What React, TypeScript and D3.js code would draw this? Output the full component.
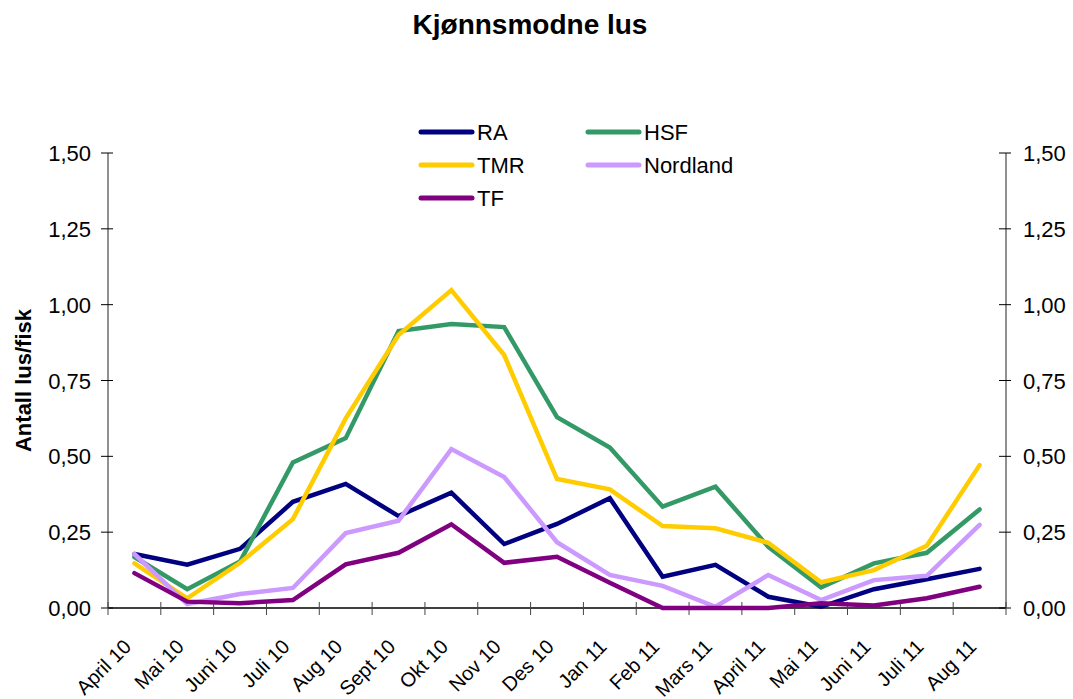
import React, { useEffect, useRef } from 'react';
import * as d3 from 'd3';

const months = ['April 10', 'Mai 10', 'Juni 10', 'Juli 10', 'Aug 10', 'Sept 10', 'Okt 10', 'Nov 10', 'Des 10',
  'Jan 11', 'Feb 11', 'Mars 11', 'April 11', 'Mai 11', 'Juni 11', 'Juli 11', 'Aug 11'];

const ra = [0.178, 0.143, 0.195, 0.35, 0.409, 0.303, 0.38, 0.211, 0.277, 0.362, 0.103, 0.142, 0.037, 0.004, 0.062, 0.095, 0.129];
const hsf = [0.168, 0.062, 0.153, 0.48, 0.56, 0.913, 0.936, 0.926, 0.629, 0.529, 0.334, 0.40, 0.202, 0.068, 0.147, 0.182, 0.325];
const tmr = [0.147, 0.032, 0.149, 0.293, 0.625, 0.90, 1.048, 0.834, 0.425, 0.391, 0.27, 0.263, 0.215, 0.085, 0.125, 0.205, 0.471];
const nordland = [0.178, 0.013, 0.046, 0.066, 0.247, 0.288, 0.524, 0.432, 0.217, 0.109, 0.073, 0.004, 0.109, 0.026, 0.092, 0.106, 0.274];
const tf = [0.115, 0.021, 0.016, 0.026, 0.144, 0.182, 0.276, 0.149, 0.169, 0.083, 0, 0, 0, 0.016, 0.008, 0.032, 0.07];

const yTicks = [0, 0.25, 0.5, 0.75, 1, 1.25, 1.5];

const series = [
  { name: 'RA', values: ra, color: '#000080' },
  { name: 'HSF', values: hsf, color: '#339966' },
  { name: 'TMR', values: tmr, color: '#FFCC00' },
  { name: 'Nordland', values: nordland, color: '#CC99FF' },
  { name: 'TF', values: tf, color: '#800080' },
];

export default function App() {
  const ref = useRef<SVGSVGElement>(null);

  useEffect(() => {
    const svg = d3.select(ref.current);
    svg.selectAll('*').remove();

    const left = 108, right = 1006, top = 153, bottom = 608;
    const font = 'Liberation Sans, Arial, sans-serif';

    const x = d3.scaleBand().domain(months).range([left, right]);
    const y = d3.scaleLinear().domain([0, 1.5]).range([bottom, top]);
    const fmt = (v: number) => d3.format('.2f')(v).replace('.', ',');

    // title
    svg.append('text')
      .attr('x', 530).attr('y', 34)
      .attr('text-anchor', 'middle')
      .attr('font-family', font).attr('font-size', 28).attr('font-weight', 'bold')
      .text('Kjønnsmodne lus');

    // y title
    svg.append('text')
      .attr('transform', `translate(31,${(top + bottom) / 2}) rotate(-90)`)
      .attr('text-anchor', 'middle')
      .attr('font-family', font).attr('font-size', 22).attr('font-weight', 'bold')
      .text('Antall lus/fisk');

    // axes
    const axisColor = '#555';
    svg.append('line').attr('x1', left).attr('x2', left).attr('y1', top).attr('y2', bottom)
      .attr('stroke', axisColor).attr('stroke-width', 1.3);
    svg.append('line').attr('x1', right).attr('x2', right).attr('y1', top).attr('y2', bottom)
      .attr('stroke', axisColor).attr('stroke-width', 1.3);

    yTicks.forEach(t => {
      svg.append('line').attr('x1', left - 7).attr('x2', left + 5).attr('y1', y(t)).attr('y2', y(t))
        .attr('stroke', '#000').attr('stroke-width', 1);
      svg.append('line').attr('x1', right - 7).attr('x2', right + 5).attr('y1', y(t)).attr('y2', y(t))
        .attr('stroke', '#000').attr('stroke-width', 1);
      svg.append('text').attr('x', left - 17).attr('y', y(t) + 8)
        .attr('text-anchor', 'end').attr('font-family', font).attr('font-size', 22)
        .text(fmt(t));
      svg.append('text').attr('x', right + 17).attr('y', y(t) + 8)
        .attr('text-anchor', 'start').attr('font-family', font).attr('font-size', 22)
        .text(fmt(t));
    });

    // x axis
    svg.append('line').attr('x1', left).attr('x2', right).attr('y1', bottom).attr('y2', bottom)
      .attr('stroke', '#000').attr('stroke-width', 1.3);
    const edges = months.map(m => x(m) as number).concat([right]);
    edges.forEach(e => {
      svg.append('line').attr('x1', e).attr('x2', e).attr('y1', bottom - 6).attr('y2', bottom + 7)
        .attr('stroke', '#444').attr('stroke-width', 1);
    });
    months.forEach(m => {
      const cx = (x(m) as number) + x.bandwidth() / 2;
      svg.append('text')
        .attr('transform', `translate(${cx - 2},${bottom + 40}) rotate(-45)`)
        .attr('text-anchor', 'end')
        .attr('font-family', font).attr('font-size', 20)
        .text(m);
    });

    // lines
    const line = d3.line<number>()
      .x((_, i) => (x(months[i]) as number) + x.bandwidth() / 2)
      .y(d => y(d));

    series.forEach(s => {
      svg.append('path')
        .datum(s.values)
        .attr('d', line)
        .attr('fill', 'none')
        .attr('stroke', s.color)
        .attr('stroke-width', 4.5)
        .attr('stroke-linejoin', 'miter')
        .attr('stroke-linecap', 'round');
    });

    // legend
    const legendPos = [
      { s: series[0], x: 421, y: 132 },
      { s: series[2], x: 421, y: 165 },
      { s: series[4], x: 421, y: 198 },
      { s: series[1], x: 588, y: 132 },
      { s: series[3], x: 588, y: 165 },
    ];
    legendPos.forEach(l => {
      svg.append('line').attr('x1', l.x).attr('x2', l.x + 51).attr('y1', l.y).attr('y2', l.y)
        .attr('stroke', l.s.color).attr('stroke-width', 5).attr('stroke-linecap', 'round');
      svg.append('text').attr('x', l.x + 56).attr('y', l.y + 8)
        .attr('font-family', font).attr('font-size', 22)
        .text(l.s.name);
    });
  }, []);

  return (
    <svg ref={ref} width={1073} height={699} style={{ position: 'absolute', left: 0, top: 0, background: '#fff' }} />
  );
}
